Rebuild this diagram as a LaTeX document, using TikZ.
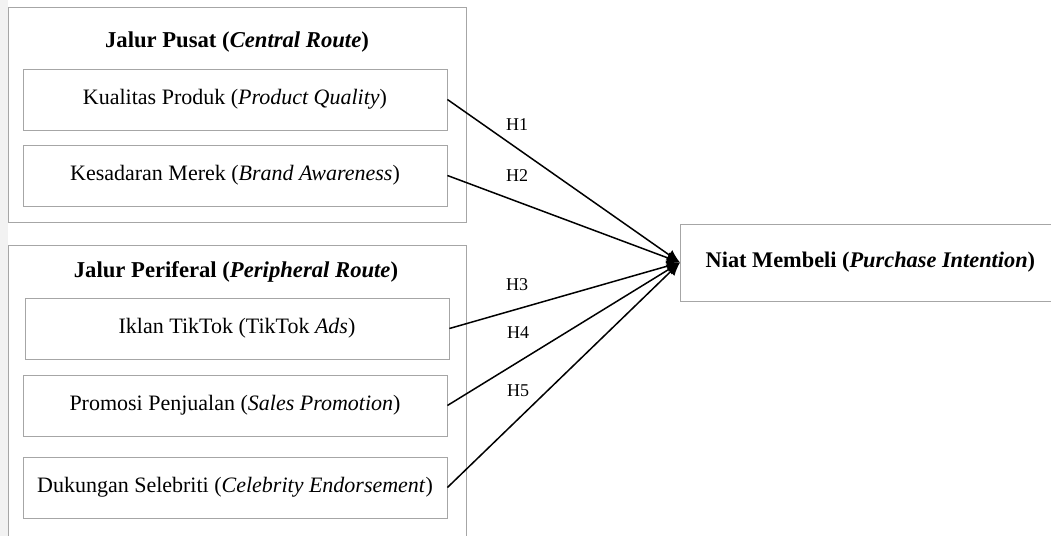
\documentclass[tikz,border=0pt]{standalone}
\usepackage{fontspec}
\setmainfont{Liberation Serif}
\usetikzlibrary{arrows.meta}

\tikzset{
  routebox/.style={draw=gray!70, line width=0.5pt},
  varbox/.style={draw=gray!70, line width=0.5pt, minimum width=424*0.6pt, minimum height=61*0.6pt, inner sep=0pt, font=\fontsize{13.2}{15}\selectfont},
  hpath/.style={black, line width=0.9pt, -{Latex[length=8pt,width=7pt]}},
  hyp/.style={font=\fontsize{10.8}{12}\selectfont}
}

\begin{document}
\begin{tikzpicture}[x=0.6pt,y=-0.6pt]
  \useasboundingbox (0,0) rectangle (1051,536);
  \fill[gray!10] (0,0) rectangle (8,536);

  % central route
  \draw[routebox] (8,7) rectangle (466,222);
  \node[font=\fontsize{13.6}{15}\selectfont\bfseries] (central) at (237,42) {Jalur Pusat (\textit{Central Route})};
  \node[varbox] (quality) at (235,99.5) {Kualitas Produk (\textit{Product Quality})};
  \node[varbox] (brand) at (235,175.5) {Kesadaran Merek (\textit{Brand Awareness})};

  % peripheral route
  \draw[routebox] (8,245) rectangle (466,545);
  \node[font=\fontsize{13.6}{15}\selectfont\bfseries] (peripheral) at (236,272) {Jalur Periferal (\textit{Peripheral Route})};
  \node[varbox] (ads) at (237,328.5) {Iklan TikTok (TikTok \textit{Ads})};
  \node[varbox] (promo) at (235,405.5) {Promosi Penjualan (\textit{Sales Promotion})};
  \node[varbox] (celeb) at (235,487.5) {Dukungan Selebriti (\textit{Celebrity Endorsement})};

  % outcome
  \node[draw=gray!70, line width=0.5pt, minimum width=380*0.6pt, minimum height=77*0.6pt, anchor=west, inner sep=0pt,
        font=\fontsize{13.4}{15}\selectfont\bfseries] (intent) at (680,262.5) {Niat Membeli (\textit{Purchase Intention})};

  \draw[hpath] (quality.east) -- (intent.west);
  \draw[hpath] (brand.east) -- (intent.west);
  \draw[hpath] (ads.east) -- (intent.west);
  \draw[hpath] (promo.east) -- (intent.west);
  \draw[hpath] (celeb.east) -- (intent.west);

  \node[hyp] (h1) at (517,125) {H1};
  \node[hyp] (h2) at (517,176) {H2};
  \node[hyp] (h3) at (517,285) {H3};
  \node[hyp] (h4) at (518,333) {H4};
  \node[hyp] (h5) at (518,391) {H5};
\end{tikzpicture}
\end{document}
